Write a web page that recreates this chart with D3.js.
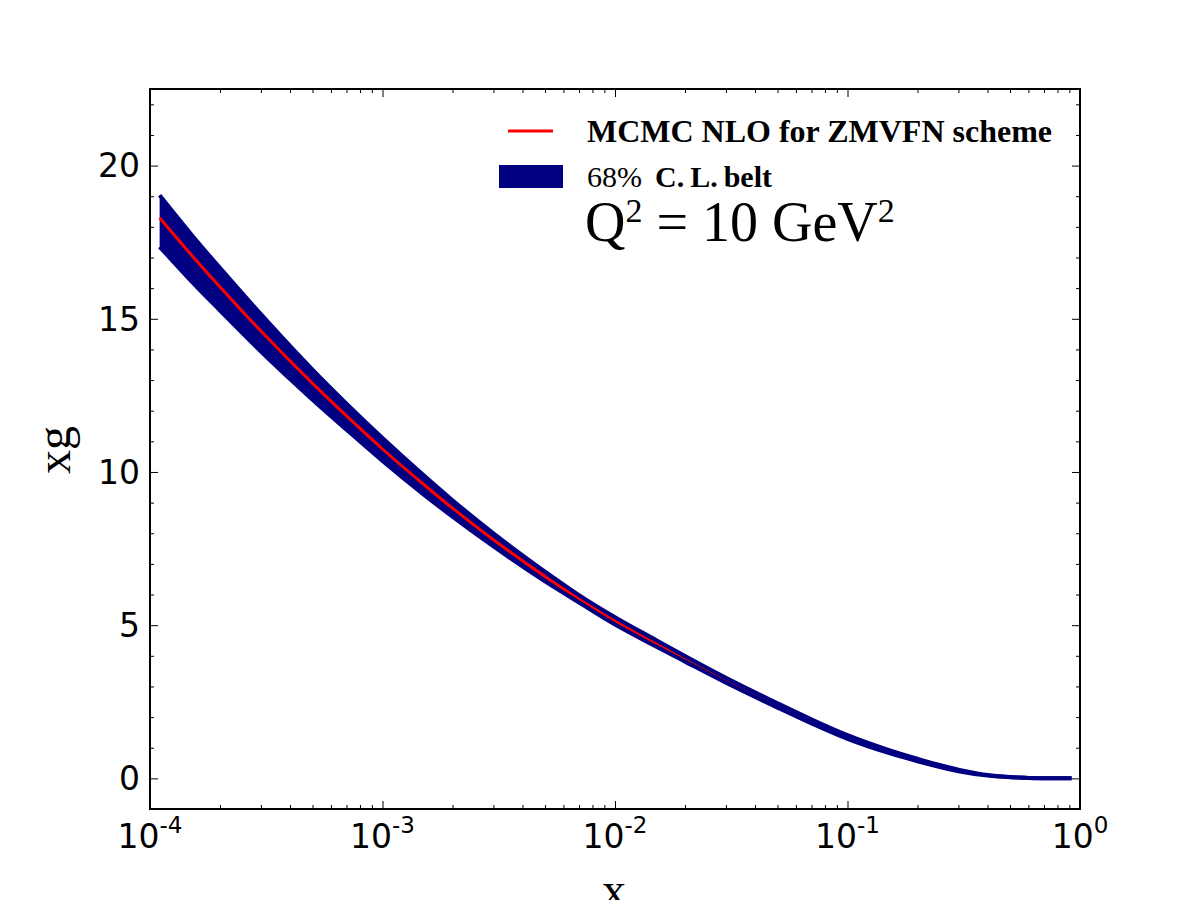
<!DOCTYPE html>
<html lang="en">
  <head>
    <meta charset="utf-8" />
    <title>xg at Q2 = 10 GeV2</title>
    <script type="text/javascript" src="https://d3js.org/d3.v7.min.js"></script>
    <style>
      body { margin: 0; background: #fff; }
    </style>
  </head>
  <body>
    <div id="graph"></div>

    <script type="text/javascript">
      /***************
       * data
       ***************/

      const xValues = [1.1e-4, 1.5e-4, 2e-4, 3e-4, 5e-4, 7e-4, 1e-3, 1.5e-3, 2e-3, 3e-3, 5e-3, 7e-3,
        1e-2, 1.5e-2, 2e-2, 3e-2, 5e-2, 7e-2, 0.1, 0.15, 0.2, 0.3, 0.4, 0.5, 0.6, 0.7, 0.8, 0.92];
      const central = [18.30, 17.10, 16.04, 14.60, 12.89, 11.83, 10.75, 9.60, 8.82, 7.79, 6.59, 5.86,
        5.14, 4.41, 3.90, 3.20, 2.38, 1.86, 1.35, 0.88, 0.60, 0.26, 0.10, 0.04, 0.015, 0.005, 0.002, 0.0];
      const upper = [19.03, 17.77, 16.66, 15.15, 13.34, 12.23, 11.11, 9.90, 9.08, 8.00, 6.75, 5.98,
        5.26, 4.515, 3.99, 3.28, 2.45, 1.925, 1.41, 0.93, 0.64, 0.285, 0.11, 0.045, 0.015, 0.005, 0.002, 0.0];
      const lower = [17.35, 16.24, 15.27, 13.93, 12.36, 11.38, 10.36, 9.27, 8.54, 7.57, 6.43, 5.74,
        5.02, 4.305, 3.81, 3.12, 2.31, 1.795, 1.29, 0.83, 0.56, 0.235, 0.09, 0.035, 0.015, 0.005, 0.002, 0.0];

      const xMajor = [1e-4, 1e-3, 1e-2, 1e-1, 1];
      const xExponents = ["-4", "-3", "-2", "-1", "0"];
      const yMajor = [0, 5, 10, 15, 20];

      const points = xValues.map((x, i) => ({ x: x, c: central[i], hi: upper[i], lo: lower[i] }));

      /***************************
       * create svg
       **************************/

      const width = 1200;
      const height = 900;
      const margin = { top: 89, right: 120, bottom: 91, left: 150 };

      const svg = d3
        .select("div#graph")
        .append("svg")
        .attr("width", width)
        .attr("height", height);

      /********************
       * scales
       ********************/

      const x = d3.scaleLog().domain([1e-4, 1]).range([margin.left, width - margin.right]);
      const y = d3.scaleLinear().domain([-1, 22.5]).range([height - margin.bottom, margin.top]);

      // minor ticks
      const xMinor = [];
      for (let e = -4; e < 0; e++) {
        for (let k = 2; k <= 9; k++) xMinor.push(k * Math.pow(10, e));
      }
      const yMinor = d3.range(-1, 23, 1).filter((v) => v % 5 !== 0);

      /**************
       * band + line
       **************/

      const plot = svg.append("g");

      const area = d3
        .area()
        .x((d) => x(d.x))
        .y0((d) => y(d.lo))
        .y1((d) => y(d.hi))
        .curve(d3.curveMonotoneX);

      plot.append("path")
        .datum(points)
        .attr("fill", "#000080")
        .attr("d", area);

      const lineOf = (key) => d3.line().x((d) => x(d.x)).y((d) => y(d[key])).curve(d3.curveMonotoneX);

      plot.append("path")
        .datum(points)
        .attr("fill", "none")
        .attr("stroke", "#ff0000")
        .attr("stroke-width", 3)
        .attr("d", lineOf("c"));

      // thick band edges on top: they hide the red line where the belt gets thin
      ["hi", "lo"].forEach((k) => {
        plot.append("path")
          .datum(points)
          .attr("fill", "none")
          .attr("stroke", "#000080")
          .attr("stroke-width", 4)
          .attr("d", lineOf(k));
      });

      /**************
       * axes (ticks inside, all four sides)
       **************/

      const x0 = margin.left, x1 = width - margin.right;
      const y0 = height - margin.bottom, y1 = margin.top;

      function tickAxis(gen, tr) {
        const g = svg.append("g").attr("transform", tr).call(gen);
        g.select(".domain").remove();
        g.selectAll("line").attr("stroke", "#000").attr("stroke-width", 1);
        return g;
      }

      tickAxis(d3.axisBottom(x).tickValues(xMajor).tickSize(-8).tickFormat(""), `translate(0,${y0})`);
      tickAxis(d3.axisBottom(x).tickValues(xMinor).tickSize(-4).tickFormat(""), `translate(0,${y0})`);
      tickAxis(d3.axisTop(x).tickValues(xMajor).tickSize(-8).tickFormat(""), `translate(0,${y1})`);
      tickAxis(d3.axisTop(x).tickValues(xMinor).tickSize(-4).tickFormat(""), `translate(0,${y1})`);

      tickAxis(d3.axisLeft(y).tickValues(yMajor).tickSize(-8).tickFormat(""), `translate(${x0},0)`);
      tickAxis(d3.axisLeft(y).tickValues(yMinor).tickSize(-4).tickFormat(""), `translate(${x0},0)`);
      tickAxis(d3.axisRight(y).tickValues(yMajor).tickSize(-8).tickFormat(""), `translate(${x1},0)`);
      tickAxis(d3.axisRight(y).tickValues(yMinor).tickSize(-4).tickFormat(""), `translate(${x1},0)`);

      // frame
      svg.append("rect")
        .attr("x", x0).attr("y", y1)
        .attr("width", x1 - x0).attr("height", y0 - y1)
        .attr("fill", "none").attr("stroke", "#000").attr("stroke-width", 2);

      // x tick labels 10^n
      const xl = svg.append("g")
        .attr("font-family", "'DejaVu Sans', sans-serif")
        .attr("fill", "#000");
      xMajor.forEach((v, i) => {
        const t = xl.append("text")
          .attr("x", x(v))
          .attr("y", y0 + 39)
          .attr("text-anchor", "middle")
          .attr("font-size", 33);
        t.append("tspan").text("10");
        t.append("tspan").attr("dy", -15).attr("font-size", 23).text(xExponents[i]);
      });

      // y tick labels
      svg.append("g")
        .selectAll("text")
        .data(yMajor)
        .enter()
        .append("text")
        .attr("x", x0 - 10)
        .attr("y", (d) => y(d))
        .attr("dy", "0.36em")
        .attr("text-anchor", "end")
        .attr("font-family", "'DejaVu Sans', sans-serif")
        .attr("font-size", 33)
        .text((d) => d);

      // axis labels
      svg.append("text")
        .attr("x", 614)
        .attr("y", 906)
        .attr("text-anchor", "middle")
        .attr("font-family", "'Liberation Serif', serif")
        .attr("font-size", 48)
        .text("x");

      svg.append("text")
        .attr("transform", "translate(70,450) rotate(-90)")
        .attr("text-anchor", "middle")
        .attr("font-family", "'Liberation Serif', serif")
        .attr("font-size", 48)
        .text("xg");

      /**************
       * legend
       **************/

      const leg = svg.append("g").attr("font-family", "'Liberation Serif', serif").attr("fill", "#000");

      leg.append("line")
        .attr("x1", 508).attr("x2", 553)
        .attr("y1", 131).attr("y2", 131)
        .attr("stroke", "#ff0000").attr("stroke-width", 3);

      leg.append("text")
        .attr("x", 587).attr("y", 142)
        .attr("font-size", 32).attr("font-weight", "bold")
        .attr("textLength", 465).attr("lengthAdjust", "spacingAndGlyphs")
        .text("MCMC NLO for ZMVFN scheme");

      leg.append("rect")
        .attr("x", 499).attr("y", 165)
        .attr("width", 64).attr("height", 23)
        .attr("fill", "#000080");

      leg.append("text")
        .attr("x", 587).attr("y", 187)
        .attr("font-size", 30)
        .text("68%");

      leg.append("text")
        .attr("x", 655).attr("y", 187)
        .attr("font-size", 30).attr("font-weight", "bold")
        .text("C.\u2009L.\u2009belt");

      const t3 = leg.append("text").attr("x", 585).attr("y", 241).attr("font-size", 56);
      t3.append("tspan").text("Q");
      t3.append("tspan").attr("dy", -19).attr("font-size", 34).text("2");
      t3.append("tspan").attr("dy", 19).text(" = 10 GeV");
      t3.append("tspan").attr("dy", -19).attr("font-size", 34).text("2");
    </script>
  </body>
</html>
